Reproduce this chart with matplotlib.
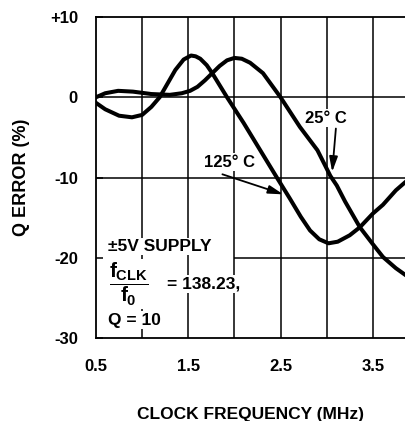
import numpy as np
import matplotlib.pyplot as plt

plt.rcParams['font.family'] = ['Liberation Sans', 'DejaVu Sans']
plt.rcParams['font.weight'] = 'bold'
plt.rcParams['mathtext.fontset'] = 'custom'
plt.rcParams['mathtext.rm'] = 'Liberation Sans:bold'
plt.rcParams['mathtext.it'] = 'Liberation Sans:bold'
plt.rcParams['mathtext.bf'] = 'Liberation Sans:bold'

# Q error vs clock frequency
freq_25 = [0.5, 0.6, 0.74, 0.9, 1.1, 1.3, 1.43, 1.52, 1.6, 1.68, 1.76, 1.84, 1.92, 2.0,
           2.08, 2.17, 2.31, 2.5, 2.71, 2.9, 3.04, 3.11, 3.2, 3.36, 3.5, 3.61, 3.75, 3.86]
qerr_25 = [0.0, 0.5, 0.8, 0.7, 0.4, 0.3, 0.5, 0.8, 1.3, 2.1, 3.0, 3.9, 4.6, 4.9,
           4.8, 4.3, 3.0, 0.0, -3.7, -6.6, -9.8, -11.0, -13.0, -16.2, -18.3, -19.9, -21.3, -22.2]

freq_125 = [0.5, 0.6, 0.75, 0.89, 1.0, 1.1, 1.19, 1.28, 1.36, 1.45, 1.53, 1.58, 1.63,
            1.7, 1.76, 1.92, 2.1, 2.28, 2.46, 2.6, 2.72, 2.82, 2.92, 3.02, 3.12, 3.25,
            3.36, 3.5, 3.61, 3.75, 3.86]
qerr_125 = [-0.7, -1.5, -2.3, -2.5, -2.2, -1.2, 0.0, 1.8, 3.4, 4.7, 5.2, 5.1, 4.8,
            4.0, 3.0, 0.0, -3.2, -6.6, -10.0, -12.6, -14.9, -16.6, -17.7, -18.2, -18.0, -17.2,
            -16.2, -14.5, -13.4, -11.6, -10.5]

xticks = [0.5, 1.0, 1.5, 2.0, 2.5, 3.0, 3.5]
xticklabels = ['0.5', '', '1.5', '', '2.5', '', '3.5']
yticks = [10, 0, -10, -20, -30]
yticklabels = ['+10', '0', '-10', '-20', '-30']

fig = plt.figure(figsize=(4.06, 4.21), dpi=100)
ax = fig.add_axes([96 / 406, 83 / 421, 310 / 406, 321 / 421])

ax.set_xlim(0.5, 3.86)
ax.set_ylim(-30, 10)

# grid: vertical lines everywhere, -20 line only right of the note
for xv in xticks[1:]:
    ax.axvline(xv, color='black', lw=1.1, zorder=1)
ax.axhline(0, color='black', lw=1.1, zorder=1)
ax.axhline(-10, color='black', lw=1.1, zorder=1)
ax.hlines(-20, 2.0, 3.86, color='black', lw=1.1, zorder=1)

ax.plot(freq_25, qerr_25, color='black', lw=2.9, solid_joinstyle='round', zorder=3)
ax.plot(freq_125, qerr_125, color='black', lw=2.9, solid_joinstyle='round', zorder=3)

ax.set_xticks(xticks)
ax.set_xticklabels(xticklabels)
ax.set_yticks(yticks)
ax.set_yticklabels(yticklabels)
ax.tick_params(axis='both', direction='in', length=5, width=1.1, labelsize=12)
ax.tick_params(axis='x', pad=15, length=0)
ax.tick_params(axis='y', pad=13)

for s in ['top', 'left', 'bottom']:
    ax.spines[s].set_linewidth(1.3)
ax.spines['right'].set_visible(False)

ax.set_xlabel('CLOCK FREQUENCY (MHz)', fontsize=12.5, fontweight='bold', labelpad=24)
ax.set_ylabel('Q ERROR (%)', fontsize=13, fontweight='bold', labelpad=14)

wb = dict(facecolor='white', edgecolor='none', pad=1)
ax.text(2.99, -2.6, '25° C', fontsize=12, ha='center', va='center', bbox=wb, zorder=4)
ax.annotate('', xy=(3.06, -9.3), xytext=(3.1, -3.9),
            arrowprops=dict(arrowstyle='-|>,head_length=0.9,head_width=0.25',
                            color='black', lw=1.3, shrinkA=0, shrinkB=0), zorder=5)
ax.text(1.95, -8.1, '125° C', fontsize=12, ha='center', va='center', bbox=wb, zorder=4)
ax.annotate('', xy=(2.53, -12.1), xytext=(1.87, -9.6),
            arrowprops=dict(arrowstyle='-|>,head_length=0.9,head_width=0.25',
                            color='black', lw=1.3, shrinkA=0, shrinkB=0), zorder=5)

ax.text(0.63, -18.6, '±5V SUPPLY', fontsize=12.5, ha='left', va='center', bbox=wb, zorder=4)
ax.text(0.64, -23.3, r'$\dfrac{f_{CLK}}{f_0}$', fontsize=15, ha='left', va='center', bbox=wb, zorder=4)
ax.text(1.27, -23.3, '= 138.23,', fontsize=12.5, ha='left', va='center', bbox=wb, zorder=4)
ax.text(0.63, -27.8, 'Q = 10', fontsize=12.5, ha='left', va='center', bbox=wb, zorder=4)

fig.savefig('out.png', dpi=100)
